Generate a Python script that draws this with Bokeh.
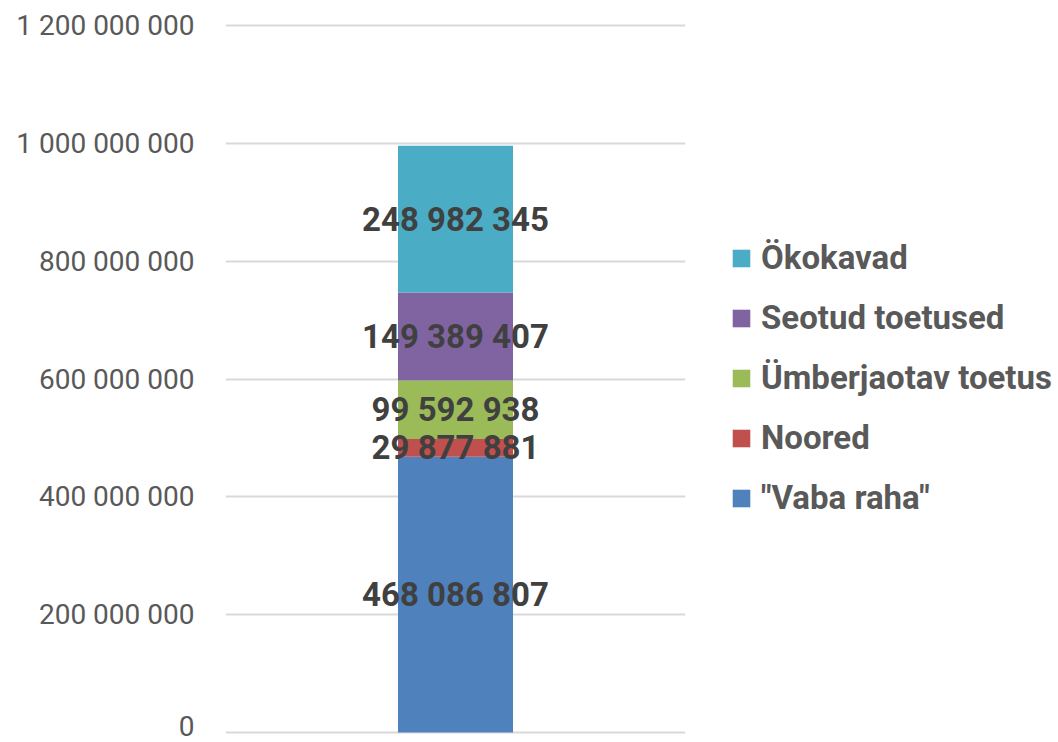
from bokeh.plotting import figure
from bokeh.models import ColumnDataSource, Legend, LegendItem, FixedTicker
from bokeh.core.properties import value
from bokeh.embed import file_html
from bokeh.resources import INLINE

categories = [""]
series_names = ['"Vaba raha"', "Noored", "Ümberjaotav toetus", "Seotud toetused", "Ökokavad"]
series_values = [468086807, 29877881, 99592938, 149389407, 248982345]
series_colors = ["#4F81BD", "#C0504D", "#9BBB59", "#8064A2", "#4BACC6"]
label_texts = ["468 086 807", "29 877 881", "99 592 938", "149 389 407", "248 982 345"]
tick_values = [0, 200000000, 400000000, 600000000, 800000000, 1000000000, 1200000000]
tick_labels = ["0", "200 000 000", "400 000 000", "600 000 000", "800 000 000", "1 000 000 000", "1 200 000 000"]

pad = 2 * 1200000000 / 707
p = figure(x_range=categories, y_range=(-pad, 1200000000 + pad),
           frame_width=460, frame_height=711,
           output_backend="svg", toolbar_location=None,
           min_border_left=225, min_border_right=0, min_border_top=23, min_border_bottom=8)
p.outline_line_color = None
p.background_fill_color = "white"

keys = [f"s{i}" for i in range(len(series_values))]
data = {"cat": categories}
for k, v in zip(keys, series_values):
    data[k] = [v]
src = ColumnDataSource(data)
rs = p.vbar_stack(keys, x="cat", width=0.25, color=series_colors, source=src, line_color=None)

# data labels at segment centres
bottoms, centres = 0, []
for v in series_values:
    centres.append(bottoms + v / 2)
    bottoms += v
lsrc = ColumnDataSource(dict(x=categories * len(centres), y=centres, t=label_texts))
p.text(x="x", y="y", text="t", source=lsrc, text_align="center", text_baseline="middle",
       text_font=value("Roboto"), text_font_style="bold", text_font_size="33px",
       text_color="#404040")

p.xaxis.visible = False
p.xgrid.grid_line_color = None
p.ygrid.grid_line_color = "#D9D9D9"
p.ygrid.grid_line_width = 2
p.ygrid.ticker = FixedTicker(ticks=tick_values)
ya = p.yaxis[0]
ya.ticker = FixedTicker(ticks=tick_values)
ya.major_label_overrides = {t: l for t, l in zip(tick_values, tick_labels)}
ya.axis_line_color = None
ya.major_tick_line_color = None
ya.minor_tick_line_color = None
ya.major_label_standoff = 25
ya.major_label_text_font = "Roboto"
ya.major_label_text_font_size = "28px"
ya.major_label_text_color = "#595959"

items = [LegendItem(label=n, renderers=[r]) for n, r in zip(series_names, rs)][::-1]
legend = Legend(items=items, location=(45, 217), padding=0, margin=0, spacing=21,
                glyph_width=22, glyph_height=22, label_standoff=9,
                label_text_font="Roboto", label_text_font_style="bold",
                label_text_font_size="33px", label_text_color="#595959",
                border_line_color=None, background_fill_alpha=0)
p.add_layout(legend, "right")

open("out.html", "w").write(file_html(p, INLINE))
